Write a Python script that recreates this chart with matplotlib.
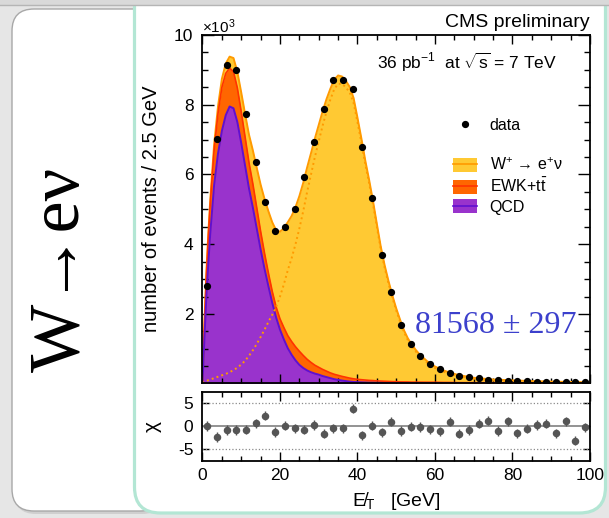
import matplotlib
matplotlib.use("Agg")
import matplotlib.pyplot as plt
import numpy as np
from matplotlib.patches import FancyBboxPatch, Rectangle, Patch
from matplotlib.lines import Line2D
from matplotlib.ticker import MultipleLocator

plt.rcParams['font.family'] = ['Liberation Sans', 'DejaVu Sans']
plt.rcParams['mathtext.fontset'] = 'custom'
plt.rcParams['mathtext.rm'] = 'Liberation Sans'
plt.rcParams['mathtext.it'] = 'Liberation Sans:italic'
plt.rcParams['mathtext.bf'] = 'Liberation Sans:bold'
plt.rcParams['axes.unicode_minus'] = False

# fitted model components, units of 10^3 events per 2.5 GeV
met = [0, 0.5, 1, 1.5, 2, 3, 4, 5, 6, 7, 8, 9, 10, 11, 12, 13, 14, 15, 16, 17,
       18, 19, 20, 21, 22, 23, 24, 25, 26, 27, 28, 29, 30, 31, 32, 33, 34, 35,
       36, 37, 38, 39, 40, 41, 42, 43, 44, 45, 46, 47, 48, 49, 50, 51, 52, 53,
       54, 55, 56, 57, 58, 60, 62, 64, 66, 68, 70, 75, 80, 85, 90, 95, 100]
w_sig = [0.02, 0.05, 0.08, 0.1, 0.12, 0.16, 0.2, 0.24, 0.28, 0.33, 0.39, 0.46,
         0.55, 0.66, 0.8, 0.96, 1.14, 1.34, 1.55, 1.77, 1.98, 2.2, 2.5, 2.85,
         3.25, 3.6, 4.0, 4.45, 4.95, 5.5, 6.0, 6.5, 6.95, 7.4, 7.8, 8.15, 8.45,
         8.6, 8.6, 8.5, 8.35, 8.05, 7.5, 6.92, 6.3, 5.75, 5.15, 4.5, 3.86, 3.33,
         2.88, 2.47, 2.1, 1.78, 1.48, 1.25, 1.08, 0.93, 0.8, 0.7, 0.6, 0.45,
         0.35, 0.28, 0.22, 0.18, 0.14, 0.09, 0.07, 0.05, 0.04, 0.03, 0.02]
ewk = [0, 0.4, 0.6, 0.75, 0.85, 1.0, 1.15, 1.25, 1.2, 1.1, 1.05, 0.98, 0.9,
       0.82, 0.74, 0.68, 0.6, 0.52, 0.45, 0.38, 0.33, 0.3, 0.31, 0.34, 0.36,
       0.38, 0.39, 0.39, 0.36, 0.32, 0.28, 0.24, 0.21, 0.19, 0.17, 0.15, 0.14,
       0.13, 0.12, 0.11, 0.1, 0.09, 0.08, 0.075, 0.07, 0.065, 0.06, 0.055,
       0.05, 0.05, 0.045, 0.04, 0.04, 0.035, 0.035, 0.035, 0.03, 0.03, 0.03,
       0.03, 0.03, 0.03, 0.025, 0.025, 0.02, 0.02, 0.02, 0.02, 0.015, 0.015,
       0.01, 0.01, 0.01]
qcd = [0, 1.3, 2.5, 3.45, 4.3, 5.7, 6.6, 7.25, 7.7, 7.95, 7.9, 7.5, 6.9, 6.25,
       5.6, 5.05, 4.45, 3.85, 3.3, 2.8, 2.32, 1.9, 1.55, 1.27, 1.02, 0.83,
       0.67, 0.54, 0.45, 0.38, 0.33, 0.29, 0.26, 0.22, 0.19, 0.16, 0.13, 0.11,
       0.09, 0.075, 0.06, 0.05, 0.045, 0.04, 0.035, 0.03, 0.03, 0.025, 0.025,
       0.02, 0.02, 0.02, 0.018, 0.017, 0.016, 0.015, 0.015, 0.015, 0.014,
       0.013, 0.012, 0.012, 0.011, 0.01, 0.01, 0.01, 0.01, 0.01, 0.01, 0.01,
       0.01, 0.01, 0.01]

# data in 2.5 GeV bins
bins = np.arange(1.25, 100, 2.5)
data_y = [2.81, 7.02, 9.15, 8.99, 7.73, 6.35, 5.2, 4.38, 4.50, 5.0, 5.93, 6.94,
          7.87, 8.70, 8.71, 8.46, 6.79, 5.33, 3.70, 2.62, 1.69, 1.14, 0.79,
          0.56, 0.41, 0.31, 0.22, 0.18, 0.15, 0.12, 0.10, 0.09, 0.08, 0.065,
          0.06, 0.055, 0.05, 0.045, 0.04, 0.035]
chi = [0.1, -2.3, -0.8, -0.8, -0.7, 0.7, 2.3, -1.2, 0.15, -0.45, -0.7, 0.3,
       -1.6, -0.45, -0.45, 3.8, -1.9, 0.15, -1.3, 1.05, -1.0, -0.1, -0.15,
       -0.6, -1.05, 1.05, -1.6, -0.8, 0.6, 1.2, -1.0, 1.1, -1.5, -0.5, 0.3,
       0.6, -1.5, 1.1, -3.1, -0.2]

c_w, c_wline = '#ffc933', '#ff9a00'
c_ewk, c_ewkline = '#ff6600', '#ff3300'
c_qcd, c_qcdline = '#9933cc', '#6010d0'

fig = plt.figure(figsize=(6.09, 5.18), dpi=100, facecolor='#e6e6e6')

# slide background (pixel coordinates, y down)
bg = fig.add_axes([0, 0, 1, 1])
bg.set_xlim(0, 609)
bg.set_ylim(518, 0)
bg.axis('off')
bg.add_patch(FancyBboxPatch((14, 12), 150, 502, boxstyle='round,pad=0,rounding_size=22',
                            fc='#cfcfcf', ec='none'))
bg.add_patch(FancyBboxPatch((12, 9), 150, 502, boxstyle='round,pad=0,rounding_size=22',
                            fc='white', ec='#a8a8a8', lw=1))
bg.add_patch(FancyBboxPatch((134.5, -40), 471, 553, boxstyle='round,pad=0,rounding_size=26',
                            fc='white', ec='#b3e6d4', lw=2.3))
bg.add_patch(Rectangle((0, 0), 609, 5, fc='#d9d9d9', ec='none'))
bg.plot([0, 609], [5, 5], color='#b5b5b5', lw=1)
bg.text(61, 269, 'W\u2192e\u03bd', rotation=90, ha='center', va='center', fontsize=52,
        family=['Liberation Serif', 'DejaVu Serif'])

ax = fig.add_axes([0.3325, 0.2606, 0.6363, 0.6718])
ax2 = fig.add_axes([0.3325, 0.11, 0.6363, 0.1338])

# stacked model
met = np.array(met)
lvl_qcd = np.array(qcd)
lvl_ewk = lvl_qcd + np.array(ewk)
lvl_tot = lvl_ewk + np.array(w_sig)

ax.fill_between(met, 0, lvl_tot, color=c_w, lw=0)
ax.plot(met, lvl_tot, color=c_wline, lw=1.4)
ax.fill_between(met, 0, lvl_ewk, color=c_ewk, lw=0)
ax.plot(met, lvl_ewk, color=c_ewkline, lw=1.2)
ax.fill_between(met, 0, lvl_qcd, color=c_qcd, lw=0)
ax.plot(met, lvl_qcd, color=c_qcdline, lw=1.4)
ax.plot(met, w_sig, color=c_wline, lw=1.4, ls=(0, (1, 1.6)))
ax.plot(bins, data_y, 'o', color='black', ms=4.2)

ax.set_xlim(0, 100)
ax.set_ylim(0.02, 10)
ax.set_yticks([2, 4, 6, 8, 10])
ax.yaxis.set_minor_locator(MultipleLocator(0.5))
ax.set_ylabel('number of events / 2.5 GeV', fontsize=14.5)
ax.yaxis.set_label_coords(-0.107, 0.5)

ax.text(0.0, 1.006, r'$\times$10$^{\mathregular{3}}$', transform=ax.transAxes,
        ha='left', va='baseline', fontsize=11)
ax.text(1.0, 1.037, 'CMS preliminary', transform=ax.transAxes,
        ha='right', va='center', fontsize=14)
ax.text(0.915, 0.92, r'36 pb$^{\mathregular{-1}}$  at $\sqrt{\mathregular{s}}$ = 7 TeV',
        transform=ax.transAxes, ha='right', va='center', fontsize=12.5)
ax.text(0.964, 0.164, '81568 \u00b1 297', transform=ax.transAxes, ha='right', va='center',
        fontsize=23, color='#3c40cc', family=['Liberation Serif', 'DejaVu Serif'])

leg1 = ax.legend([Line2D([], [], ls='none', marker='o', color='black', ms=4.2)], ['data'],
                 loc='center left', bbox_to_anchor=(0.646, 0.741), frameon=False,
                 fontsize=11.5, handlelength=1.5, handletextpad=0.8,
                 borderpad=0, borderaxespad=0)
ax.add_artist(leg1)
handles = [(Patch(fc=c_w, ec='none'), Line2D([], [], color=c_wline, lw=1.2)),
           (Patch(fc=c_ewk, ec='none'), Line2D([], [], color=c_ewkline, lw=1.2)),
           (Patch(fc=c_qcd, ec='none'), Line2D([], [], color=c_qcdline, lw=1.2))]
labels = [r'W$^{\mathregular{+}}$ \u2192 e$^{\mathregular{+}}$\u03bd'.replace('\\u2192', '\u2192').replace('\\u03bd', '\u03bd'),
          r'EWK+t$\mathregular{\bar{t}}$', 'QCD']
ax.legend(handles, labels, loc='center left', bbox_to_anchor=(0.646, 0.567), frameon=False,
          fontsize=11.5, handlelength=1.5, handleheight=0.9, handletextpad=0.8,
          labelspacing=0.25, borderpad=0, borderaxespad=0)

# chi panel
ax2.axhline(0, color='#8a8a8a', lw=1.3)
ax2.axhline(5, color='#8a8a8a', lw=0.9, ls=':')
ax2.axhline(-5, color='#8a8a8a', lw=0.9, ls=':')
ax2.errorbar(bins, chi, yerr=1, fmt='o', color='#555555', ms=4.4, elinewidth=1, capsize=0)
ax2.set_xlim(0, 100)
ax2.set_ylim(-7.5, 7.5)
ax2.set_yticks([-5, 0, 5])
ax2.set_ylabel('\u03c7', fontsize=15)
ax2.yaxis.set_label_coords(-0.105, 0.5)
ax2.set_xlabel('E\u0338$_{\\mathregular{T}}$   [GeV]', fontsize=14)
ax2.xaxis.set_label_coords(0.5, -0.42)

for a in (ax, ax2):
    a.xaxis.set_major_locator(MultipleLocator(20))
    a.xaxis.set_minor_locator(MultipleLocator(5))
    a.tick_params(which='both', direction='in', top=True, right=True, width=1,
                  labelsize=12.5)
    a.tick_params(axis='x', which='major', length=6.5, pad=5)
    a.tick_params(axis='x', which='minor', length=3.3)
    a.tick_params(axis='y', which='major', length=8.5, pad=6.5)
    a.tick_params(axis='y', which='minor', length=4.6)
    for s in a.spines.values():
        s.set_linewidth(1.3)
ax.tick_params(axis='x', labelbottom=False)
ax2.tick_params(axis='y', which='major', length=5)

fig.savefig('out.png', dpi=100, facecolor=fig.get_facecolor())
